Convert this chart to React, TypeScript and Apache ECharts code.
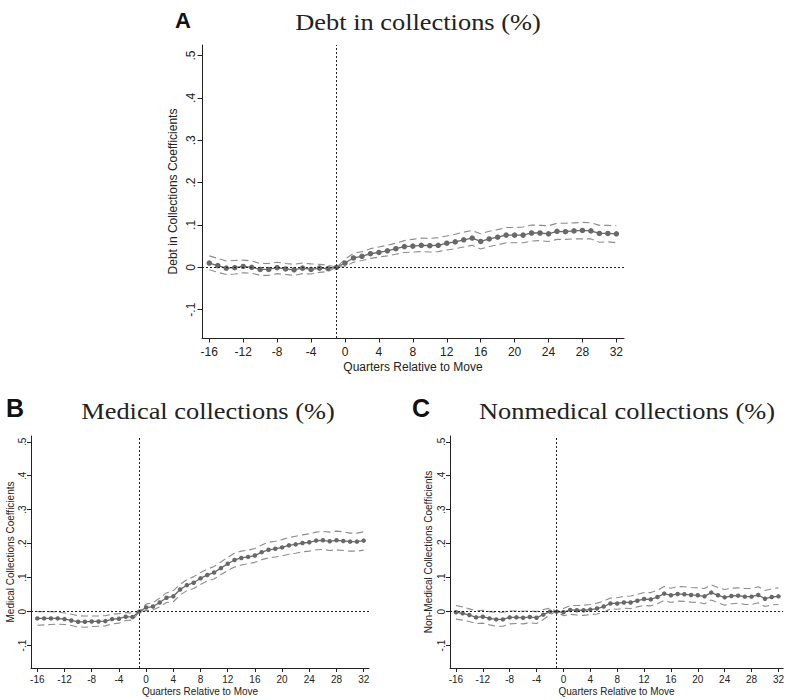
import React, { useEffect, useRef } from "react";
import * as echarts from "echarts";

const quarters = [-16,-15,-14,-13,-12,-11,-10,-9,-8,-7,-6,-5,-4,-3,-2,-1,0,1,2,3,4,5,6,7,8,9,10,11,12,13,14,15,16,17,18,19,20,21,22,23,24,25,26,27,28,29,30,31,32];

const xTicks = [-16,-12,-8,-4,0,4,8,12,16,20,24,28,32];
const yTicks = [-0.1,0,0.1,0.2,0.3,0.4,0.5];

const debtCoef = [0.010,0.004,-0.002,-0.001,0.002,0.000,-0.005,-0.005,-0.001,-0.004,-0.006,-0.002,-0.005,-0.002,-0.003,0.000,0.010,0.022,0.026,0.032,0.035,0.039,0.044,0.049,0.050,0.052,0.051,0.052,0.057,0.060,0.065,0.069,0.061,0.067,0.071,0.076,0.076,0.076,0.081,0.081,0.079,0.085,0.084,0.086,0.087,0.086,0.080,0.080,0.079];
const debtUpper = [0.027,0.021,0.015,0.016,0.017,0.015,0.009,0.009,0.012,0.009,0.007,0.010,0.008,0.007,0.005,0.000,0.019,0.033,0.037,0.044,0.048,0.052,0.057,0.063,0.066,0.069,0.068,0.070,0.074,0.078,0.083,0.087,0.079,0.085,0.089,0.094,0.094,0.095,0.100,0.099,0.098,0.104,0.104,0.105,0.106,0.105,0.099,0.099,0.098];
const debtLower = [-0.006,-0.012,-0.017,-0.016,-0.013,-0.014,-0.019,-0.019,-0.015,-0.017,-0.019,-0.015,-0.016,-0.012,-0.010,0.000,0.002,0.012,0.016,0.021,0.024,0.027,0.031,0.035,0.036,0.037,0.036,0.037,0.041,0.044,0.048,0.052,0.043,0.049,0.053,0.058,0.058,0.058,0.062,0.063,0.061,0.066,0.066,0.067,0.067,0.067,0.059,0.060,0.058];

const medCoef = [-0.020,-0.020,-0.020,-0.020,-0.022,-0.026,-0.030,-0.030,-0.029,-0.029,-0.028,-0.022,-0.021,-0.015,-0.016,0.000,0.012,0.015,0.027,0.041,0.045,0.065,0.078,0.085,0.098,0.108,0.115,0.128,0.141,0.152,0.158,0.161,0.165,0.175,0.182,0.185,0.189,0.195,0.198,0.202,0.204,0.209,0.210,0.207,0.210,0.208,0.206,0.206,0.209];
const medUpper = [0.000,0.000,0.000,-0.001,-0.004,-0.008,-0.012,-0.013,-0.013,-0.013,-0.012,-0.008,-0.006,-0.003,-0.004,0.000,0.022,0.026,0.040,0.055,0.062,0.080,0.094,0.103,0.115,0.125,0.133,0.146,0.160,0.172,0.178,0.181,0.186,0.196,0.204,0.207,0.212,0.218,0.222,0.226,0.229,0.234,0.236,0.234,0.237,0.235,0.231,0.231,0.235];
const medLower = [-0.040,-0.039,-0.038,-0.037,-0.038,-0.041,-0.045,-0.046,-0.044,-0.043,-0.042,-0.036,-0.034,-0.026,-0.025,0.000,0.003,0.005,0.014,0.027,0.029,0.049,0.062,0.068,0.080,0.090,0.096,0.109,0.121,0.131,0.137,0.141,0.145,0.153,0.158,0.161,0.164,0.169,0.172,0.176,0.178,0.182,0.183,0.180,0.182,0.180,0.178,0.178,0.181];

const nonmedCoef = [-0.002,-0.005,-0.010,-0.017,-0.015,-0.020,-0.023,-0.023,-0.017,-0.017,-0.018,-0.016,-0.018,-0.009,0.000,0.000,-0.002,0.005,0.004,0.004,0.006,0.009,0.015,0.024,0.024,0.027,0.027,0.032,0.037,0.036,0.043,0.053,0.048,0.052,0.051,0.049,0.048,0.045,0.056,0.048,0.042,0.046,0.047,0.044,0.044,0.049,0.038,0.043,0.045];
const nonmedUpper = [0.018,0.014,0.008,0.002,0.004,0.000,-0.002,-0.002,0.002,0.002,0.001,0.002,0.000,0.006,0.010,0.000,0.009,0.018,0.018,0.019,0.021,0.025,0.031,0.040,0.041,0.045,0.046,0.051,0.056,0.056,0.063,0.074,0.069,0.074,0.073,0.071,0.070,0.068,0.079,0.071,0.065,0.069,0.070,0.068,0.068,0.073,0.062,0.067,0.070];
const nonmedLower = [-0.022,-0.025,-0.029,-0.035,-0.034,-0.039,-0.043,-0.043,-0.036,-0.035,-0.036,-0.033,-0.035,-0.023,-0.009,0.000,-0.012,-0.008,-0.010,-0.011,-0.009,-0.007,-0.001,0.008,0.007,0.010,0.009,0.014,0.018,0.017,0.023,0.033,0.027,0.031,0.030,0.028,0.027,0.023,0.034,0.026,0.019,0.023,0.025,0.021,0.021,0.026,0.015,0.020,0.021];

const SANS = "Liberation Sans, Arial, sans-serif";
const SERIF = "Liberation Serif, Times New Roman, serif";

function fmtY(v: number) {
  if (Math.abs(v) < 1e-9) return "0";
  const s = v.toFixed(1);
  return s.replace("0.", ".");
}

function pair(vals: number[]) {
  return quarters.map((q, i) => [q, vals[i]]);
}

type Panel = {
  coef: number[]; upper: number[]; lower: number[];
  yName: string; yNameX: number; yNameY: number;
  grid: { left: number; top: number; width: number; height: number };
  xMin: number; xMax: number; yMin: number; yMax: number;
  font: number; tick: number; symbol: number;
  yLabelMargin: number; xLabelMargin: number; xNameGap: number;
};

const panels: Panel[] = [
  {
    coef: debtCoef, upper: debtUpper, lower: debtLower,
    yName: "Debt in Collections Coefficients", yNameX: 173, yNameY: 191.5,
    grid: { left: 202, top: 45, width: 422, height: 293 },
    xMin: -16.86, xMax: 32.9, yMin: -0.167, yMax: 0.525,
    font: 12, tick: 4.5, symbol: 5.5,
    yLabelMargin: 5, xLabelMargin: 8, xNameGap: 23,
  },
  {
    coef: medCoef, upper: medUpper, lower: medLower,
    yName: "Medical Collections Coefficients", yNameX: 10, yNameY: 552,
    grid: { left: 31, top: 436, width: 338, height: 232 },
    xMin: -16.93, xMax: 32.78, yMin: -0.166, yMax: 0.517,
    font: 10, tick: 4, symbol: 4.5,
    yLabelMargin: 4, xLabelMargin: 6, xNameGap: 18,
  },
  {
    coef: nonmedCoef, upper: nonmedUpper, lower: nonmedLower,
    yName: "Non-Medical Collections Coefficients", yNameX: 428, yNameY: 552,
    grid: { left: 450, top: 436, width: 337, height: 232 },
    xMin: -16.88, xMax: 32.7, yMin: -0.166, yMax: 0.517,
    font: 10, tick: 4, symbol: 4.5,
    yLabelMargin: 4, xLabelMargin: 6, xNameGap: 18,
  },
];

const titles = [
  { letter: "A", lx: 183, ly: 20, lsize: 22, text: "Debt in collections (%)", tx: 418, ty: 22 },
  { letter: "B", lx: 15, ly: 408, lsize: 25, text: "Medical collections (%)", tx: 208, ty: 411 },
  { letter: "C", lx: 421, ly: 408, lsize: 25, text: "Nonmedical collections (%)", tx: 627, ty: 411 },
];

export default function App() {
  const ref = useRef<HTMLDivElement>(null);
  useEffect(() => {
    if (!ref.current) return;
    const chart = echarts.init(ref.current, undefined, { renderer: "svg" });
    const grids: any[] = [];
    const xAxes: any[] = [];
    const yAxes: any[] = [];
    const series: any[] = [];
    const graphic: any[] = [];
    panels.forEach((p, i) => {
      grids.push({ ...p.grid, containLabel: false });
      xAxes.push({
        type: "value", gridIndex: i, min: p.xMin, max: p.xMax,
        name: "Quarters Relative to Move", nameLocation: "middle", nameGap: p.xNameGap,
        nameTextStyle: { fontFamily: SANS, fontSize: p.font, color: "#222" },
        splitLine: { show: false },
        axisLine: { show: true, onZero: false, lineStyle: { color: "#222", width: 1 } },
        axisTick: { show: true, customValues: xTicks, length: p.tick, lineStyle: { color: "#222" } },
        axisLabel: { customValues: xTicks, fontFamily: SANS, fontSize: p.font, color: "#222", margin: p.xLabelMargin },
      });
      yAxes.push({
        type: "value", gridIndex: i, min: p.yMin, max: p.yMax,
        splitLine: { show: false },
        axisLine: { show: true, onZero: false, lineStyle: { color: "#222", width: 1 } },
        axisTick: { show: true, customValues: yTicks, length: p.tick, lineStyle: { color: "#222" } },
        axisLabel: {
          customValues: yTicks, rotate: 90, fontFamily: SANS, fontSize: p.font, color: "#222",
          margin: p.yLabelMargin, formatter: (v: number) => fmtY(v),
        },
      });
      graphic.push({
        type: "text", x: p.yNameX, y: p.yNameY, rotation: Math.PI / 2,
        style: { text: p.yName, font: `${p.font}px ${SANS}`, fill: "#222", align: "center", verticalAlign: "middle" },
      });
      series.push({
        type: "line", xAxisIndex: i, yAxisIndex: i, data: pair(p.upper), symbol: "none",
        lineStyle: { color: "#8c8c8c", width: 1.1, type: [7, 4] }, z: 2,
      });
      series.push({
        type: "line", xAxisIndex: i, yAxisIndex: i, data: pair(p.lower), symbol: "none",
        lineStyle: { color: "#8c8c8c", width: 1.1, type: [7, 4] }, z: 2,
      });
      series.push({
        type: "line", xAxisIndex: i, yAxisIndex: i, data: pair(p.coef),
        symbol: "circle", symbolSize: p.symbol,
        itemStyle: { color: "#686868" },
        lineStyle: { color: "#686868", width: 1.3 }, z: 3,
        markLine: {
          silent: true, symbol: "none", label: { show: false },
          lineStyle: { color: "#222", width: 1, type: [2, 2] },
          data: [{ yAxis: 0 }, { xAxis: -1 }],
        },
      });
    });
    titles.forEach((t) => {
      graphic.push({
        type: "text", x: t.lx, y: t.ly,
        style: { text: t.letter, font: `bold ${t.lsize}px ${SANS}`, fill: "#111", align: "center", verticalAlign: "middle" },
      });
      graphic.push({
        type: "text", x: t.tx, y: t.ty, scaleX: 1.1,
        style: { text: t.text, font: `24px ${SERIF}`, fill: "#222", align: "center", verticalAlign: "middle" },
      });
    });
    chart.setOption({
      animation: false,
      backgroundColor: "#ffffff",
      grid: grids, xAxis: xAxes, yAxis: yAxes, series, graphic,
    });
    return () => chart.dispose();
  }, []);
  return (
    <div
      ref={ref}
      style={{ position: "absolute", left: 0, top: 0, width: 787, height: 700, background: "#fff" }}
    />
  );
}
